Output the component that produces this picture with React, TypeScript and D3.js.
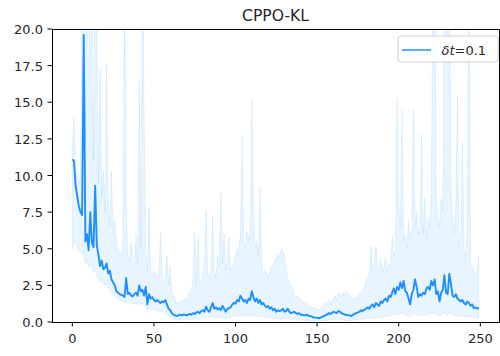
import React from "react";
import * as d3 from "d3";

const meanValues = [
  11.1, 11.0, 9.3, 8.6, 7.9, 7.5, 7.3, 19.6, 5.5, 6.0,
  4.9, 7.5, 5.4, 5.1, 9.3, 5.2, 4.6, 3.8, 4.2, 3.6,
  3.7, 4.0, 3.3, 3.5, 2.9, 2.7, 2.5, 2.1, 2.0, 1.9,
  1.85, 1.8, 1.7, 3.0, 1.9, 2.0, 1.8, 1.75, 1.9, 2.0,
  1.8, 2.5, 2.1, 2.2, 1.8, 2.4, 1.2, 1.9, 1.6, 1.7,
  1.5, 1.4, 1.5, 1.4, 1.3, 1.4, 1.35, 1.5, 1.2, 0.9,
  0.8, 0.6, 0.5, 0.45, 0.4, 0.45, 0.5, 0.45, 0.5, 0.5,
  0.45, 0.5, 0.55, 0.5, 0.6, 0.55, 0.65, 0.7, 0.6, 0.75,
  0.8, 0.7, 1.05, 0.8, 0.7, 1.0, 1.3, 0.9, 1.0, 0.85,
  0.95, 0.8, 1.1, 0.9, 0.7, 0.9, 0.95, 1.0, 1.2, 1.3,
  1.25, 1.5, 1.4, 1.8, 1.6, 1.4, 1.5, 1.3, 1.6, 1.5,
  2.1, 1.7, 1.4, 1.6, 1.3, 1.5, 1.2, 1.3, 1.1, 1.0,
  1.1, 0.9, 1.0, 0.8, 0.9, 0.7, 0.8, 0.75, 0.8, 0.9,
  0.7, 0.75, 0.9, 0.7, 0.6, 0.65, 0.7, 0.6, 0.55, 0.6,
  0.5, 0.5, 0.45, 0.45, 0.5, 0.4, 0.4, 0.35, 0.3, 0.3,
  0.3, 0.25, 0.3, 0.35, 0.4, 0.45, 0.5, 0.6, 0.55, 0.6,
  0.7, 0.65, 0.6, 0.75, 0.7, 0.6, 0.55, 0.5, 0.5, 0.45,
  0.45, 0.4, 0.5, 0.55, 0.6, 0.65, 0.7, 0.8, 0.75, 0.85,
  0.9, 1.0, 0.9, 1.1, 1.2, 1.0, 1.3, 1.2, 1.1, 1.4,
  1.3, 1.5, 1.6, 1.4, 1.8, 1.7, 2.0, 2.3, 1.9, 2.4,
  2.2, 2.7, 2.3, 2.8, 2.1, 2.0, 1.6, 1.2, 1.9, 2.2,
  2.9, 2.4, 1.7, 1.9, 1.8, 2.0, 1.9, 2.3, 2.4, 2.2,
  2.8, 2.5, 2.9, 1.9, 2.1, 1.4, 2.0, 2.2, 3.2, 2.0,
  1.9, 3.3, 2.6, 1.8, 1.7, 1.9, 1.6, 1.5, 1.4, 1.5,
  1.3, 1.2, 1.4, 1.3, 1.1, 1.2, 0.95, 1.0, 0.9, 1.0,
];

const upperValues = [
  11.5, 14.0, 10.5, 10.0, 9.5, 10.0, 22, 40, 12, 22,
  24, 25, 22, 11, 25, 21, 9.5, 17.2, 8.5, 10.3,
  7.5, 17.6, 8.0, 6.5, 10.3, 6.0, 7.0, 5.5, 5.0, 4.6,
  4.5, 5.0, 25, 8.0, 4.5, 4.2, 5.5, 4.0, 3.8, 6.0,
  4.0, 16.5, 5.0, 25, 14, 4.5, 3.5, 7.9, 3.6, 3.2,
  3.5, 3.3, 3.0, 3.2, 6.1, 3.0, 2.8, 3.0, 4.5, 2.5,
  3.8, 2.0, 1.8, 1.5, 1.3, 1.4, 1.2, 1.5, 1.4, 1.6,
  1.5, 1.8, 2.0, 2.2, 3.0, 6.1, 2.5, 5.8, 2.6, 2.8,
  3.0, 4.0, 7.6, 3.2, 3.0, 3.5, 7.3, 3.5, 3.0, 4.5,
  3.8, 8.8, 4.0, 6.0, 3.5, 4.2, 5.8, 3.5, 3.8, 4.0,
  4.5, 5.0, 4.8, 6.0, 12.6, 5.5, 5.0, 6.2, 5.5, 6.5,
  15.2, 7.0, 5.0, 5.5, 4.5, 9.2, 4.0, 3.2, 3.5, 3.4,
  3.0, 3.5, 3.8, 4.0, 4.2, 4.3, 4.6, 4.4, 5.0, 4.8,
  4.5, 3.6, 3.0, 2.5, 2.6, 2.2, 2.0, 1.6, 1.8, 1.6,
  1.5, 1.4, 1.3, 1.3, 1.2, 1.1, 1.1, 1.0, 1.0, 0.9,
  0.9, 0.85, 0.9, 1.0, 1.1, 1.3, 1.2, 1.5, 1.3, 1.4,
  1.6, 1.8, 1.5, 2.0, 1.7, 1.9, 2.0, 1.8, 2.1, 2.0,
  1.8, 1.6, 1.5, 1.7, 1.6, 1.8, 2.0, 1.9, 2.2, 2.4,
  2.8, 3.0, 3.3, 5.1, 3.5, 4.0, 5.2, 3.8, 3.6, 4.3,
  3.4, 3.7, 4.4, 3.5, 4.0, 3.8, 5.9, 4.5, 4.8, 15.3,
  8.0, 6.5, 14.5, 5.5, 6.0, 5.0, 7.0, 5.5, 6.2, 14.5,
  6.5, 7.5, 6.0, 6.5, 12.8, 6.0, 8.5, 5.5, 7.0, 6.5,
  9.0, 24, 26, 8.0, 7.0, 6.5, 8.5, 7.5, 24, 25,
  22, 26, 9.5, 7.0, 6.0, 8.0, 15.5, 5.0, 5.5, 12.3,
  5.0, 4.5, 6.0, 24, 4.0, 3.8, 3.5, 3.2, 3.4, 4.5,
];

const lowerValues = [
  5.0, 5.6, 5.4, 5.1, 4.8, 4.9, 4.6, 4.7, 4.0, 4.2,
  3.7, 3.9, 3.6, 3.4, 3.5, 3.1, 3.0, 2.7, 2.9, 2.6,
  2.5, 2.6, 2.3, 2.3, 2.0, 1.9, 1.8, 1.6, 1.55, 1.5,
  1.45, 1.4, 1.3, 1.4, 1.3, 1.35, 1.25, 1.2, 1.25, 1.3,
  1.2, 1.4, 1.2, 1.25, 1.1, 1.2, 0.8, 1.0, 0.9, 0.95,
  0.85, 0.8, 0.8, 0.75, 0.7, 0.7, 0.65, 0.7, 0.55, 0.4,
  0.35, 0.3, 0.25, 0.2, 0.15, 0.15, 0.15, 0.1, 0.15, 0.15,
  0.15, 0.2, 0.2, 0.15, 0.2, 0.2, 0.25, 0.25, 0.2, 0.25,
  0.3, 0.25, 0.35, 0.3, 0.25, 0.3, 0.4, 0.3, 0.3, 0.3,
  0.3, 0.25, 0.35, 0.3, 0.2, 0.3, 0.3, 0.3, 0.35, 0.4,
  0.4, 0.45, 0.4, 0.5, 0.45, 0.4, 0.45, 0.4, 0.45, 0.4,
  0.5, 0.45, 0.4, 0.45, 0.35, 0.4, 0.35, 0.35, 0.3, 0.3,
  0.3, 0.25, 0.3, 0.25, 0.25, 0.2, 0.25, 0.2, 0.2, 0.25,
  0.2, 0.2, 0.25, 0.2, 0.15, 0.15, 0.2, 0.15, 0.15, 0.15,
  0.12, 0.12, 0.1, 0.1, 0.12, 0.1, 0.1, 0.08, 0.07, 0.07,
  0.07, 0.06, 0.07, 0.08, 0.1, 0.1, 0.12, 0.15, 0.13, 0.15,
  0.18, 0.16, 0.15, 0.2, 0.18, 0.15, 0.14, 0.12, 0.12, 0.11,
  0.11, 0.1, 0.12, 0.14, 0.15, 0.16, 0.18, 0.2, 0.19, 0.22,
  0.23, 0.25, 0.23, 0.28, 0.3, 0.26, 0.33, 0.3, 0.28, 0.35,
  0.33, 0.38, 0.4, 0.36, 0.45, 0.43, 0.5, 0.55, 0.48, 0.58,
  0.55, 0.62, 0.56, 0.65, 0.52, 0.5, 0.42, 0.35, 0.48, 0.54,
  0.66, 0.58, 0.44, 0.48, 0.46, 0.5, 0.48, 0.56, 0.58, 0.54,
  0.65, 0.6, 0.66, 0.48, 0.52, 0.38, 0.5, 0.54, 0.7, 0.5,
  0.48, 0.72, 0.6, 0.46, 0.44, 0.48, 0.42, 0.4, 0.38, 0.4,
  0.36, 0.34, 0.38, 0.36, 0.32, 0.34, 0.3, 0.3, 0.28, 0.3,
];

const xTicks = [0, 50, 100, 150, 200, 250];
const yTicks = [0, 2.5, 5, 7.5, 10, 12.5, 15, 17.5, 20];
const titleText = "CPPO-KL";

const W = 500;
const H = 356;
const M = { left: 52, right: 499, top: 29, bottom: 322 };
const BLUE = "#1E90FF";
const FONT = "'DejaVu Sans', sans-serif";

export default function App() {
  const n = meanValues.length;
  const xMin = -0.05 * (n - 1);
  const xMax = (n - 1) * 1.05;
  const x = d3.scaleLinear().domain([xMin, xMax]).range([M.left, M.right]);
  const y = d3.scaleLinear().domain([0, 20]).range([M.bottom, M.top]);

  const rows = meanValues.map((m, i) => ({ i, m, lo: lowerValues[i], hi: upperValues[i] }));
  const area = d3
    .area<any>()
    .x((d) => x(d.i))
    .y0((d) => y(d.lo))
    .y1((d) => y(d.hi));
  const line = d3
    .line<any>()
    .x((d) => x(d.i))
    .y((d) => y(d.m));

  const fmtY = d3.format(".1f");
  const textColor = "#262626";

  return (
    <svg
      width={W}
      height={H}
      style={{ position: "absolute", left: 0, top: 0, background: "#fff" }}
      fontFamily={FONT}
    >
      <defs>
        <clipPath id="plotclip">
          <rect x={M.left} y={M.top} width={M.right - M.left} height={M.bottom - M.top} />
        </clipPath>
      </defs>
      <rect x={0} y={0} width={W} height={H} fill="#fff" />
      <g clipPath="url(#plotclip)">
        <path
          d={area(rows) || ""}
          fill={BLUE}
          fillOpacity={0.1}
          stroke={BLUE}
          strokeOpacity={0.1}
          strokeWidth={1}
        />
        <path d={line(rows) || ""} fill="none" stroke={BLUE} strokeWidth={1.9} strokeLinejoin="round" />
      </g>
      {/* spines */}
      <rect
        x={M.left}
        y={M.top}
        width={M.right - M.left}
        height={M.bottom - M.top}
        fill="none"
        stroke="#000"
        strokeWidth={1}
        shapeRendering="crispEdges"
      />
      {/* x ticks */}
      {xTicks.map((t) => (
        <g key={"x" + t}>
          <line x1={x(t)} x2={x(t)} y1={M.bottom} y2={M.bottom + 4.5} stroke="#000" strokeWidth={1} />
          <text x={x(t)} y={M.bottom + 21} textAnchor="middle" fontSize={13} fill={textColor}>
            {t}
          </text>
        </g>
      ))}
      {/* y ticks */}
      {yTicks.map((t) => (
        <g key={"y" + t}>
          <line x1={M.left - 4.5} x2={M.left} y1={y(t)} y2={y(t)} stroke="#000" strokeWidth={1} />
          <text x={M.left - 9} y={y(t) + 5} textAnchor="end" fontSize={13} fill={textColor}>
            {fmtY(t)}
          </text>
        </g>
      ))}
      {/* title */}
      <text x={(M.left + M.right) / 2} y={21} textAnchor="middle" fontSize={15.6} fill={textColor}>
        {titleText}
      </text>
      {/* legend */}
      <g>
        <rect x={398} y={36} width={100} height={26} rx={3} ry={3} fill="#fff" fillOpacity={0.8} stroke="#d0d0d0" strokeWidth={1} />
        <line x1={402} x2={431} y1={50} y2={50} stroke={BLUE} strokeWidth={1.9} strokeOpacity={0.8} />
        <text x={441.5} y={54.5} fontSize={13} fill={textColor}>
          <tspan fontStyle="italic">δt</tspan>
          <tspan>=0.1</tspan>
        </text>
      </g>
    </svg>
  );
}
